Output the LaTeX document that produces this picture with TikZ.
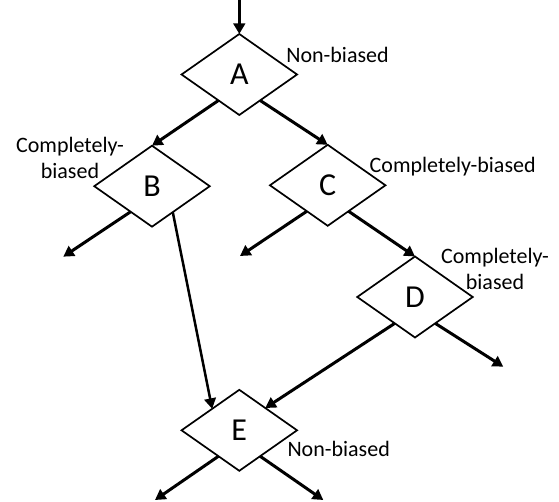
\documentclass[tikz,border=0pt]{standalone}
\usepackage{fontspec}
\setmainfont{Carlito}
\usetikzlibrary{shapes.geometric,arrows.meta,calc}
\begin{document}
\begin{tikzpicture}[x=1pt,y=-1pt,
  dia/.style={diamond,draw,line width=1.7pt,fill=white,minimum width=115.5pt,minimum height=81pt,inner sep=0pt,outer sep=0pt,font=\fontsize{32}{36}\selectfont},
  conn/.style={line width=3pt,-{Triangle[length=10.5pt,width=11.5pt]}},
  thinconn/.style={conn,line width=2.5pt},
  lab/.style={font=\fontsize{22}{26}\selectfont,inner sep=0pt,align=center,anchor=base}]
\useasboundingbox (0,0) rectangle (559,502);
\node[dia] (A) at (239.3,74.5) {A};
\node[dia] (B) at (152,186.2) {B};
\node[dia] (C) at (327.7,185.3) {C};
\node[dia] (D) at (415,297) {D};
\node[dia] (E) at (239.3,430.3) {E};
\coordinate (in) at (239.3,0);
\coordinate (Bout) at (63.3,256.7);
\coordinate (Cout) at (240,256);
\coordinate (Dout) at (503.3,366.7);
\coordinate (Eoutl) at (155,500);
\coordinate (Eoutr) at (323.3,500);
\draw[conn] (in) -- (A.north);
\draw[conn] ($(A.west)!0.64!(A.south)$) -- (B.north);
\draw[conn] ($(A.east)!0.64!(A.south)$) -- (C.north);
\draw[conn] ($(B.west)!0.63!(B.south)$) -- (Bout);
\draw[thinconn] ($(B.east)!0.64!(B.south)$) -- ($(E.north)!0.47!(E.west)$);
\draw[conn] ($(C.west)!0.64!(C.south)$) -- (Cout);
\draw[conn] ($(C.east)!0.64!(C.south)$) -- (D.north);
\draw[conn] ($(D.west)!0.65!(D.south)$) -- ($(E.north)!0.45!(E.east)$);
\draw[conn] ($(D.east)!0.65!(D.south)$) -- (Dout);
\draw[conn] ($(E.west)!0.64!(E.south)$) -- (Eoutl);
\draw[conn] ($(E.east)!0.64!(E.south)$) -- (Eoutr);
\node[lab] (lA) at (337.5,63) {Non-biased};
\node[lab] (lB) at (70,178.3) {Completely-\\biased};
\node[lab] (lC) at (452.7,172.7) {Completely-biased};
\node[lab] (lD) at (495,289.3) {Completely-\\biased};
\node[lab] (lE) at (338.7,456) {Non-biased};
\end{tikzpicture}
\end{document}
